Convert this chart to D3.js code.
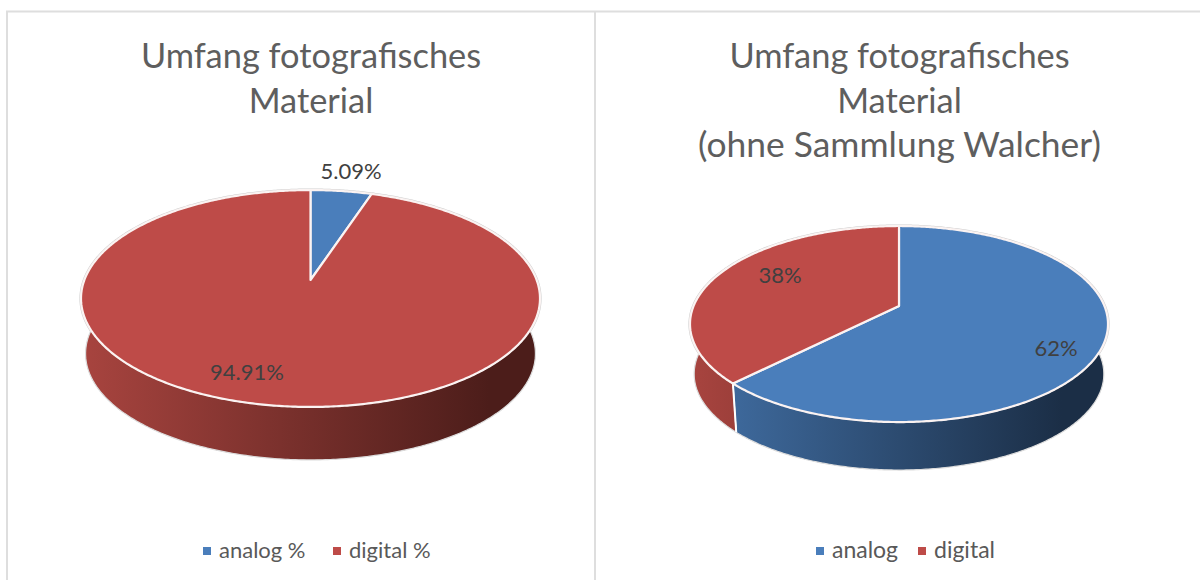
<!DOCTYPE html>
<html><head><meta charset="utf-8">
<script src="https://cdn.jsdelivr.net/npm/d3@7/dist/d3.min.js"></script>
<style>html,body{margin:0;padding:0;background:#fff}svg{display:block}text{font-family:Lato,"Open Sans",sans-serif}</style>
</head><body><svg id="c" width="1200" height="580"></svg>
<script>
const leftCategories=["analog %","digital %"];
const leftValues=[5.09,94.91];
const leftLabels=["5.09%","94.91%"];
const rightCategories=["analog","digital"];
const rightValues=[62.4,37.6];
const rightLabels=["62%","38%"];
const leftTitle=["Umfang fotografisches","Material"];
const rightTitle=["Umfang fotografisches","Material","(ohne Sammlung Walcher)"];
const colors={top:["#4a7ebb","#be4b48"],wallA:["#4270a6","#a8443f"],wallB:["#1b2e46","#4c1d1a"]};

const svg=d3.select("#c");
const defs=svg.append("defs");
svg.append("path").attr("d","M7,580V11.5H1200M595,11.5V580").attr("fill","none").attr("stroke","#dedede").attr("stroke-width",2);

function pieChart(o){
  const g=svg.append("g");
  const k=o.k, rxp=o.rx*Math.sqrt(1-k*k), ryp=o.ry;
  const proj=(a,s=1,dy=0)=>{const u=Math.sin(a),v=-Math.cos(a),w=1-k*v;
    return [o.cx+s*rxp*u/w, o.cy+dy+s*ryp*v/w];};
  const arcs=d3.pie().sort(null).value(d=>d)(o.values);
  const line=d3.line();
  const n=a=>Math.max(2,Math.ceil(Math.abs(a)/0.01));
  const samples=(a0,a1)=>d3.range(n(a1-a0)+1).map(i=>a0+(a1-a0)*i/n(a1-a0));
  const aR=Math.acos(k);
  const aL=2*Math.PI-aR;
  const sB=o.bottomScale;
  g.append("path").attr("d",line(samples(0,2*Math.PI).map(a=>proj(a)))+"Z").attr("fill","none")
    .attr("stroke","#cfcfcf").attr("stroke-width",3.2);
  arcs.forEach((d,i)=>{
    const id=o.id+"w"+i;
    const gr=defs.append("linearGradient").attr("id",id).attr("gradientUnits","userSpaceOnUse")
      .attr("x1",o.cx-o.rx).attr("x2",o.cx+o.rx*0.78).attr("y1",0).attr("y2",0);
    gr.append("stop").attr("offset",0).attr("stop-color",colors.wallA[i]);
    gr.append("stop").attr("offset",1).attr("stop-color",colors.wallB[i]);
    const a0=Math.max(d.startAngle,aR), a1=Math.min(d.endAngle,aL);
    if(a1>a0){
      const topE=samples(a0,a1).map(a=>proj(a));
      const botE=samples(a1,a0).map(a=>proj(a,sB,o.depth));
      g.append("path").attr("d",line(topE.concat(botE))+"Z").attr("fill",`url(#${id})`)
        .attr("stroke","#dcdcdc").attr("stroke-width",1.2).attr("stroke-linejoin","round");
    }
  });
  arcs.forEach(d=>{
    if(d.endAngle>aR&&d.endAngle<aL){
      g.append("path").attr("d",line([proj(d.endAngle),proj(d.endAngle,sB,o.depth)]))
       .attr("stroke","#fff").attr("stroke-width",2);
    }
  });
  arcs.forEach((d,i)=>{
    const pts=[[o.cx,o.cy]].concat(samples(d.startAngle,d.endAngle).map(a=>proj(a)));
    g.append("path").attr("d",line(pts)+"Z").attr("fill",colors.top[i])
      .attr("stroke","#fbf3f2").attr("stroke-width",2.2).attr("stroke-linejoin","round");
  });
  arcs.forEach((d,i)=>{
    g.append("text").attr("x",o.labelPos[i][0]).attr("y",o.labelPos[i][1]).attr("text-anchor","middle")
      .attr("font-size",22).attr("fill","#404040").text(o.labels[i]);
  });
  o.title.forEach((t,i)=>{
    g.append("text").attr("x",o.titleX).attr("y",68+i*44.5).attr("text-anchor","middle")
      .attr("font-size",i===2?35.4:34.4).attr("fill","#5e5e5e").text(t);
  });
  o.categories.forEach((c,i)=>{
    g.append("rect").attr("x",o.legendX[i]).attr("y",547).attr("width",8).attr("height",8).attr("fill",colors.top[i]);
    g.append("text").attr("x",o.legendX[i]+16).attr("y",558).attr("font-size",o.legendSize).attr("fill","#595959").text(c);
  });
}
pieChart({id:"l",cx:310.5,cy:280,rx:229.5,ry:105.3,k:0.1705,depth:55.5,bottomScale:0.98,legendSize:22,values:leftValues,labels:leftLabels,categories:leftCategories,
  title:leftTitle,titleX:311,labelPos:[[351,179],[247,380]],legendX:[203,333]});
pieChart({id:"r",cx:899,cy:306,rx:209,ry:94.7,k:0.184,depth:50.3,bottomScale:0.98,legendSize:23,values:rightValues,labels:rightLabels,categories:rightCategories,
  title:rightTitle,titleX:899.5,labelPos:[[1056,356],[780,283]],legendX:[816,918]});
</script></body></html>
